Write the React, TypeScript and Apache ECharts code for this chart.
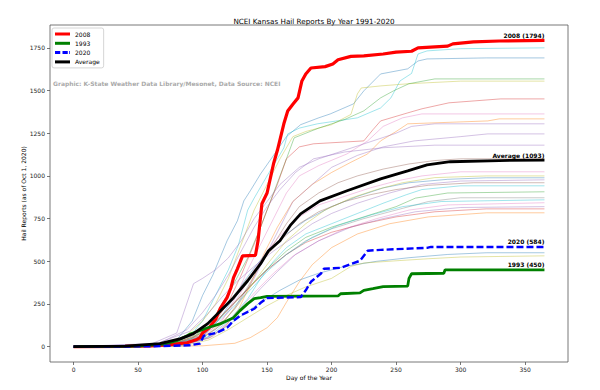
import React, { useEffect, useRef } from "react";
import * as echarts from "echarts";

const xTicks = [0, 50, 100, 150, 200, 250, 300, 350];
const yTicks = [0, 250, 500, 750, 1000, 1250, 1500, 1750];

const red2008 = [[0,0],[40,2],[60,5],[75,12],[88,23],[95,40],[98,53],[100,80],[105,110],[110,160],[114,228],[119,287],[122,345],[124,404],[127,456],[131,532],[141,535],[143,620],[146,837],[150,900],[155,1071],[158,1150],[163,1305],[166,1380],[170,1420],[174,1457],[177,1556],[180,1597],[184,1632],[195,1640],[201,1656],[205,1680],[215,1700],[225,1703],[240,1714],[250,1725],[262,1730],[267,1750],[290,1760],[294,1773],[310,1785],[330,1790],[365,1794]];
const green1993 = [[0,0],[50,3],[70,15],[80,35],[88,64],[91,76],[104,111],[114,135],[119,152],[124,170],[129,211],[135,252],[140,281],[145,287],[150,295],[205,297],[207,310],[222,315],[225,330],[232,340],[240,352],[259,355],[260,400],[262,427],[287,430],[288,450],[365,450]];
const blue2020 = [[0,0],[60,2],[90,8],[98,18],[101,64],[111,82],[119,111],[124,152],[129,181],[140,222],[145,257],[150,285],[176,290],[180,330],[184,380],[192,430],[194,456],[207,462],[222,503],[228,562],[238,567],[274,579],[277,584],[365,584]];
const average = [[0,0],[40,3],[67,18],[83,47],[93,76],[104,135],[114,211],[124,287],[135,386],[145,486],[151,560],[160,620],[168,710],[176,778],[191,854],[212,913],[238,983],[259,1030],[274,1065],[292,1083],[330,1090],[365,1093]];

const bgA = [[0,0],[60,10],[80,40],[92,150],[100,300],[108,420],[119,620],[127,737],[132,854],[137,913],[145,1012],[155,1120],[165,1230],[176,1300],[190,1340],[199,1363],[217,1422],[225,1498],[238,1597],[259,1627],[267,1673],[274,1685],[320,1691],[365,1691]];
const bgB = [[0,0],[70,15],[90,60],[100,150],[110,300],[120,450],[128,600],[135,800],[140,870],[150,1000],[158,1100],[163,1164],[166,1246],[175,1280],[189,1305],[220,1340],[238,1398],[246,1457],[253,1556],[262,1600],[267,1714],[274,1732],[300,1745],[365,1750]];
const bgC = [[0,0],[60,10],[85,50],[100,150],[110,250],[120,400],[130,600],[140,800],[150,950],[160,1100],[170,1230],[180,1260],[200,1300],[215,1360],[220,1480],[223,1515],[238,1527],[260,1540],[300,1555],[365,1555]];
const bgD = [[0,0],[70,10],[90,40],[105,120],[115,250],[125,380],[135,520],[145,700],[155,900],[165,1100],[171,1223],[190,1280],[210,1330],[225,1381],[238,1457],[248,1498],[260,1540],[280,1568],[365,1568]];
const bgE = [[0,0],[70,10],[95,60],[110,150],[120,260],[130,420],[140,600],[150,800],[158,950],[165,1100],[175,1170],[186,1188],[225,1205],[232,1270],[238,1322],[259,1369],[270,1393],[291,1428],[331,1451],[365,1451]];
const bgF = [[0,0],[75,10],[100,60],[115,150],[125,280],[135,450],[145,600],[155,750],[165,900],[175,1000],[190,1060],[212,1129],[228,1205],[240,1290],[255,1340],[270,1363],[365,1363]];
const bgG = [[0,0],[80,10],[105,50],[118,120],[128,220],[138,380],[148,550],[158,700],[170,850],[185,950],[200,1020],[215,1080],[228,1129],[238,1205],[250,1260],[259,1305],[321,1322],[330,1334],[365,1334]];
const bgH = [[0,0],[60,15],[80,80],[93,369],[100,400],[110,450],[120,520],[130,620],[140,750],[150,850],[160,950],[175,1050],[190,1100],[210,1150],[230,1200],[250,1250],[262,1290],[280,1305],[365,1305]];
const bgI = [[0,0],[70,10],[95,40],[110,100],[125,220],[140,400],[150,550],[160,700],[170,850],[185,950],[200,1050],[220,1120],[240,1170],[264,1205],[300,1230],[321,1246],[365,1246]];
const bgJ = [[0,0],[75,10],[100,50],[115,130],[125,230],[135,350],[145,480],[155,600],[165,720],[175,820],[190,900],[205,960],[220,1000],[240,1040],[260,1070],[280,1090],[300,1100],[365,1100]];
const bgK = [[0,0],[70,5],[95,40],[110,120],[120,200],[130,320],[140,450],[150,560],[160,650],[175,760],[190,830],[210,880],[230,930],[250,970],[270,1000],[300,1024],[365,1024]];
const bgL = [[0,0],[80,10],[100,60],[112,150],[122,260],[132,380],[142,480],[152,570],[165,660],[180,740],[200,820],[220,880],[240,930],[260,960],[290,980],[320,989],[365,989]];
const bgM = [[0,0],[65,20],[90,90],[105,200],[115,290],[125,370],[140,470],[155,560],[170,640],[185,720],[200,780],[220,840],[245,900],[270,950],[300,970],[365,977]];
const bgN = [[0,0],[85,10],[105,60],[120,150],[135,280],[145,400],[155,500],[165,580],[180,660],[200,720],[220,780],[240,840],[258,890],[270,920],[300,942],[365,942]];
const bgO = [[0,0],[75,10],[100,80],[115,180],[128,280],[140,380],[152,470],[165,560],[180,640],[200,700],[225,760],[250,820],[265,870],[290,900],[365,907]];
const bgP = [[0,0],[70,10],[95,50],[110,140],[122,240],[135,340],[150,450],[165,540],[180,620],[200,690],[225,750],[250,800],[275,850],[300,872],[365,872]];
const bgQ = [[0,0],[80,5],[105,50],[118,130],[130,230],[142,330],[155,430],[170,530],[190,620],[210,690],[235,750],[260,800],[290,830],[365,843]];
const bgR = [[0,0],[75,10],[100,70],[112,160],[125,260],[138,360],[150,450],[165,540],[180,610],[200,670],[225,720],[250,760],[280,790],[320,807],[365,807]];
const bgS = [[0,0],[100,5],[125,20],[137,53],[150,111],[158,170],[165,260],[175,380],[185,480],[200,580],[220,660],[245,720],[275,760],[320,784],[365,784]];
const bgT = [[0,0],[80,5],[100,40],[115,100],[130,180],[145,260],[160,330],[175,390],[190,430],[210,470],[235,500],[260,521],[290,540],[320,550],[365,550]];
const bgU = [[0,0],[85,5],[105,40],[120,100],[135,170],[150,240],[165,300],[180,350],[200,400],[215,470],[225,490],[250,503],[275,515],[300,525],[365,532]];
const bgV = [[0,0],[70,10],[95,70],[110,170],[122,280],[135,400],[148,520],[160,620],[175,720],[190,790],[210,850],[230,890],[250,920],[275,945],[310,960],[365,960]];
const bgW = [[0,0],[80,5],[100,50],[115,140],[128,250],[140,380],[152,500],[165,620],[180,720],[195,800],[215,870],[235,920],[255,960],[280,990],[320,1000],[365,1000]];
const bgX = [[0,0],[75,10],[98,60],[112,150],[125,240],[138,340],[150,440],[165,540],[185,640],[205,710],[230,770],[255,820],[285,850],[365,860]];
const bgY = [[0,0],[85,5],[108,60],[120,140],[133,240],[145,340],[158,440],[172,540],[190,620],[215,700],[240,750],[265,790],[300,815],[365,820]];
const bgZ = [[0,0],[65,15],[88,100],[100,200],[110,300],[120,420],[130,560],[140,700],[150,820],[160,920],[172,1020],[186,1100],[210,1140],[240,1165],[280,1180],[365,1180]];

const backgroundLines = [bgA, bgB, bgC, bgD, bgE, bgF, bgG, bgH, bgI, bgJ, bgK, bgL, bgM, bgN, bgO, bgP, bgQ, bgR, bgS, bgT, bgU, bgV, bgW, bgX, bgY, bgZ];
const backgroundColors = ["#1f77b4", "#17becf", "#bcbd22", "#2ca02c", "#d62728", "#e377c2", "#ff7f0e", "#9467bd", "#9467bd", "#8c564b", "#e377c2", "#1f77b4", "#9467bd", "#17becf", "#2ca02c", "#7f7f7f", "#e377c2", "#d62728", "#ff7f0e", "#1f77b4", "#bcbd22", "#8c564b", "#bcbd22", "#17becf", "#9467bd", "#9467bd"];

const FONT = "DejaVu Sans";

const SOLID_ICON = "path://M0 0H20V4H0Z";
const DASH_ICON = "path://M0 0H7V4H0Z M10 0H17V4H10Z M19 0H20V4H19Z";

function endLabel(text: string, x: number, y: number) {
  return {
    symbol: "circle",
    symbolSize: 0,
    silent: true,
    data: [{ coord: [x, y] }],
    label: {
      show: true,
      formatter: text,
      position: "top",
      align: "right",
      distance: 2,
      fontFamily: FONT,
      fontWeight: "bold",
      fontSize: 6,
      color: "#000",
    },
  };
}

export default function App() {
  const ref = useRef<HTMLDivElement>(null);
  useEffect(() => {
    document.body.style.margin = "0";
    const chart = echarts.init(ref.current!, null, { renderer: "svg" });
    const bgSeries = backgroundLines.map((d, i) => ({
      type: "line",
      name: "bg" + i,
      data: d,
      symbol: "none",
      silent: true,
      z: 1,
      lineStyle: { width: 0.9, color: backgroundColors[i], opacity: 0.45 },
    }));
    const option: any = {
      animation: false,
      backgroundColor: "#fff",
      textStyle: { fontFamily: FONT },
      title: {
        text: "NCEI Kansas Hail Reports By Year 1991-2020",
        left: 309,
        top: 13,
        textAlign: "center",
        textStyle: { fontFamily: FONT, fontSize: 7.2, fontWeight: "normal", color: "#000" },
      },
      legend: {
        data: [
          { name: "2008", icon: SOLID_ICON },
          { name: "1993", icon: SOLID_ICON },
          { name: "2020", icon: DASH_ICON },
          { name: "Average", icon: SOLID_ICON },
        ],
        orient: "vertical",
        left: 52,
        top: 28,
        padding: [3, 4, 3, 3],
        itemWidth: 15,
        itemHeight: 3,
        itemGap: 3.3,
        backgroundColor: "#fff",
        borderColor: "#ccc",
        borderWidth: 0.8,
        borderRadius: 2,
        textStyle: { fontFamily: FONT, fontSize: 6, color: "#000", lineHeight: 6 },
        selectedMode: false,
      },
      grid: { left: 50, right: 32, top: 25, bottom: 28, show: true, borderColor: "#555", borderWidth: 0.8, backgroundColor: "transparent" },
      xAxis: {
        type: "value",
        min: -18.25,
        max: 383.25,
        name: "Day of the Year",
        nameLocation: "middle",
        nameGap: 12,
        nameMoveOverlap: false,
        nameTextStyle: { fontFamily: FONT, fontSize: 6, color: "#000" },
        axisLine: { show: false, onZero: false },
        splitLine: { show: false },
        axisTick: { show: true, length: 3, lineStyle: { color: "#555", width: 0.8 }, customValues: xTicks },
        axisLabel: { fontFamily: FONT, fontSize: 6, color: "#222", margin: 4, customValues: xTicks, formatter: (v: number) => String(v) },
      },
      yAxis: {
        type: "value",
        min: -89.7,
        max: 1883.7,
        name: "Hail Reports (as of Oct 1, 2020)",
        nameLocation: "middle",
        nameGap: 24,
        nameMoveOverlap: false,
        nameTextStyle: { fontFamily: FONT, fontSize: 6, color: "#000" },
        axisLine: { show: false, onZero: false },
        splitLine: { show: false },
        axisTick: { show: true, length: 3, lineStyle: { color: "#555", width: 0.8 }, customValues: yTicks },
        axisLabel: { fontFamily: FONT, fontSize: 6, color: "#222", margin: 5, customValues: yTicks, formatter: (v: number) => String(v) },
      },
      graphic: [
        {
          type: "text",
          left: 53,
          top: 80,
          z: 100,
          style: {
            text: "Graphic: K-State Weather Data Library/Mesonet, Data Source: NCEI",
            fontFamily: FONT,
            fontSize: 6,
            fontWeight: "bold",
            fill: "#aaaaaa",
          },
        },
      ],
      series: [
        ...bgSeries,
        {
          type: "line",
          name: "2008",
          data: red2008,
          symbol: "none",
          z: 3,
          lineStyle: { width: 3.2, color: "#ff0000" },
          itemStyle: { color: "#ff0000" },
          markPoint: endLabel("2008 (1794)", 365, 1794),
        },
        {
          type: "line",
          name: "1993",
          data: green1993,
          symbol: "none",
          z: 3,
          lineStyle: { width: 2.8, color: "#008000" },
          itemStyle: { color: "#008000" },
          markPoint: endLabel("1993 (450)", 365, 450),
        },
        {
          type: "line",
          name: "2020",
          data: blue2020,
          symbol: "none",
          z: 3,
          lineStyle: { width: 2.4, color: "#0000ff", type: [7, 3] },
          itemStyle: { color: "#0000ff" },
          markPoint: endLabel("2020 (584)", 365, 584),
        },
        {
          type: "line",
          name: "Average",
          data: average,
          symbol: "none",
          z: 4,
          lineStyle: { width: 2.8, color: "#000000" },
          itemStyle: { color: "#000000" },
          markPoint: endLabel("Average (1093)", 365, 1093),
        },
      ],
    };
    chart.setOption(option);
    return () => chart.dispose();
  }, []);
  return <div ref={ref} style={{ width: 600, height: 390 }} />;
}
